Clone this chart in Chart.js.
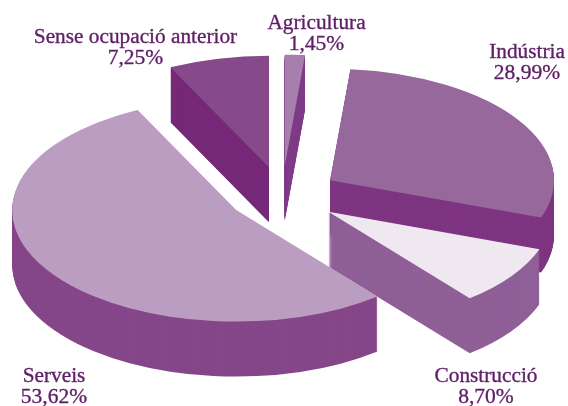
<!DOCTYPE html>
<html><head><meta charset="utf-8">
<style>html,body{margin:0;padding:0;background:#fff}#w{width:568px;height:406px}</style>
<script src="https://cdn.jsdelivr.net/npm/chart.js@4"></script></head>
<body><div id="w"><canvas id="c" width="568" height="406"></canvas></div>
<script>
const categories = ['Agricultura','Indústria','Construcció','Serveis','Sense ocupació anterior'];
const values = [1.45,28.99,8.70,53.62,7.25];
const topColors = ['#a67fac','#96689c','#efe8f1','#bb9dc1','#86498a'];
const sideColors = ['#7f3c87','#7e3580','#8f5f97','#854789','#752878'];
const explode = [59,57,56.8,54.4,58];
const drawOrder = [4,0,1,2,3];
const labelCenters = [[316.5,29],[527,58],[486,382],[54,382],[135.5,43]];
const PIE = {cx:282, cy:195.5, rx:224, ry:111.5, depth:55, step:1};
const NAME_FONT = '21.3px "Liberation Serif"';
const VALUE_FONT = '21.5px "Liberation Serif"';
const TEXT = '#5f1e66';

const pie3d = {
  id:'pie3d',
  beforeDatasetsDraw(chart){
    const ctx = chart.ctx, arcs = chart.getDatasetMeta(0).data;
    const R = arcs[0].outerRadius;
    const paint = (arc,i,dy,color)=>{
      const o = arc.options;
      const mid = (arc.startAngle+arc.endAngle)/2;
      arc.options = Object.assign({},o,{backgroundColor:color});
      ctx.save();
      ctx.translate(PIE.cx,PIE.cy+dy);
      ctx.scale(PIE.rx/R,PIE.ry/R);
      const k = explode[i]*R/PIE.rx;
      ctx.translate(-arc.x+Math.cos(mid)*k,-arc.y+Math.sin(mid)*k);
      arc.draw(ctx);
      ctx.restore();
      arc.options = o;
    };
    drawOrder.forEach(i=>{
      for(let d=PIE.depth;d>=1;d-=PIE.step) paint(arcs[i],i,d,sideColors[i]);
      paint(arcs[i],i,0,topColors[i]);
    });
    return false;
  },
  afterDraw(chart){
    const ctx = chart.ctx;
    ctx.save();
    ctx.fillStyle = TEXT; ctx.strokeStyle = TEXT; ctx.lineWidth = 0.35;
    ctx.textAlign='center'; ctx.textBaseline='alphabetic';
    categories.forEach((c,i)=>{
      const [x,y]=labelCenters[i];
      const v = values[i].toFixed(2).replace('.',',')+'%';
      ctx.font = NAME_FONT;
      ctx.fillText(c,x,y); ctx.strokeText(c,x,y);
      ctx.font = VALUE_FONT;
      ctx.fillText(v,x,y+21); ctx.strokeText(v,x,y+21);
    });
    ctx.restore();
  }
};

new Chart(document.getElementById('c'),{
  type:'pie',
  data:{labels:categories,datasets:[{data:values,backgroundColor:topColors,borderWidth:0,hoverOffset:0}]},
  options:{responsive:false,animation:false,events:[],layout:{padding:0},
    plugins:{legend:{display:false},tooltip:{enabled:false}}},
  plugins:[pie3d]
});
</script></body></html>
